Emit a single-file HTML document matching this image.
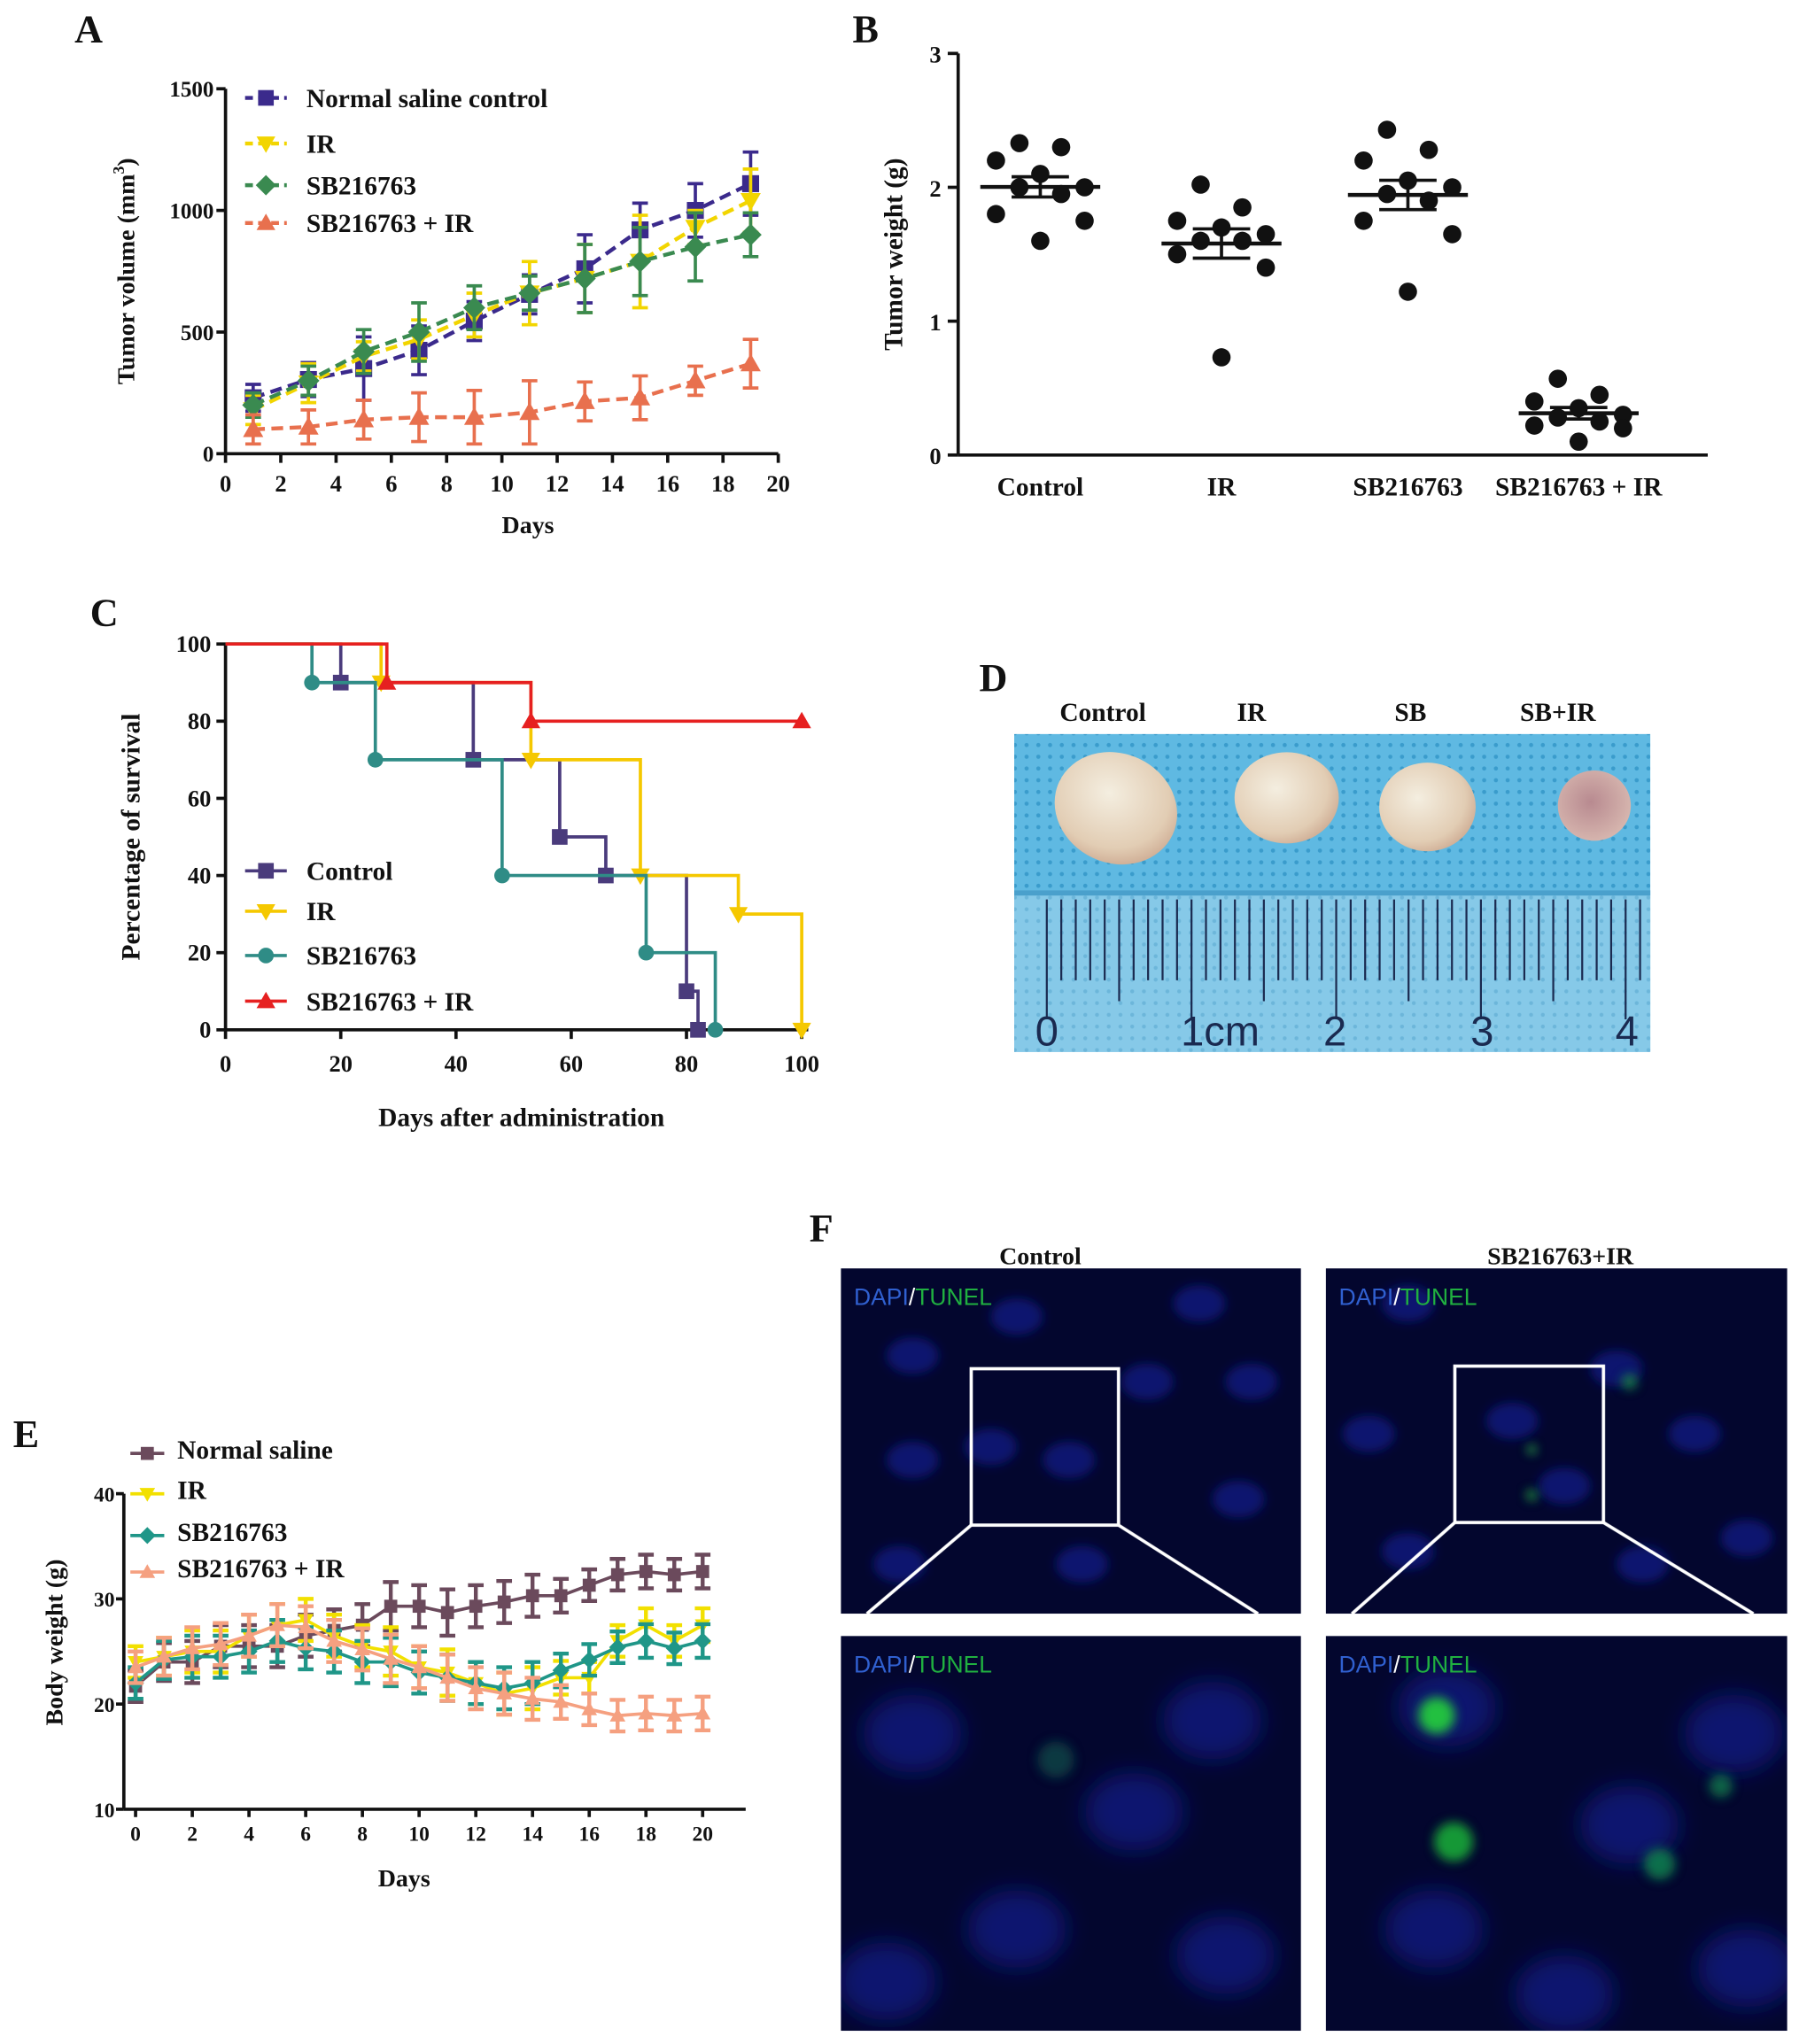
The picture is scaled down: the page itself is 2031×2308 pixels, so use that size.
<!DOCTYPE html>
<html><head><meta charset="utf-8"><style>
html,body{margin:0;padding:0;background:#fff}
svg{display:block}
text{font-family:"Liberation Serif",serif;font-weight:bold;fill:#111}
.sans{font-family:"Liberation Sans",sans-serif;font-weight:normal}
</style></head><body>
<svg id="fig" width="2031" height="2308" viewBox="0 0 1380 1568" xmlns="http://www.w3.org/2000/svg">
<defs>
<pattern id="mesh" width="9" height="9" patternUnits="userSpaceOnUse"><rect width="9" height="9" fill="#5fb9e2"/><circle cx="4.5" cy="4.5" r="1.6" fill="#3a9ccc"/></pattern>
<pattern id="mesh2" width="9" height="9" patternUnits="userSpaceOnUse"><rect width="9" height="9" fill="#86c9e8"/><circle cx="4.5" cy="4.5" r="1.5" fill="#6cb6da"/></pattern>
<radialGradient id="tum" cx="0.4" cy="0.4" r="0.7"><stop offset="0" stop-color="#f4eee0"/><stop offset="0.7" stop-color="#e2cdb4"/><stop offset="1" stop-color="#c9a48c"/></radialGradient>
<radialGradient id="tum2" cx="0.45" cy="0.45" r="0.6"><stop offset="0" stop-color="#b88a90"/><stop offset="1" stop-color="#d8b8b0"/></radialGradient>
<filter id="blur4"><feGaussianBlur stdDeviation="4"/></filter>
<filter id="blur8"><feGaussianBlur stdDeviation="9"/></filter>
<clipPath id="clip0"><rect x="645" y="973" width="353" height="265"/></clipPath>
<clipPath id="clip1"><rect x="1017" y="973" width="354" height="265"/></clipPath>
<clipPath id="clip2"><rect x="645" y="1255" width="353" height="303"/></clipPath>
<clipPath id="clip3"><rect x="1017" y="1255" width="354" height="303"/></clipPath>
<clipPath id="clipD"><rect x="778" y="563" width="488" height="244"/></clipPath>
</defs>
<g id="panelA"></g>
<g id="panelB"></g>
<g id="panelC"></g>
<g id="panelD"></g>
<g id="panelE"></g>
<g id="panelF"></g>
</svg>
<script>
// ---- Panel A data ----
const aDays = [1,3,5,7,9,11,13,15,17,19];
const aCtrl = [230,305,350,425,545,655,760,920,1000,1110];
const aCtrlErr = [55,70,130,100,80,80,140,110,110,130];
const aIR = [180,290,400,470,570,660,720,790,930,1040];
const aIRErr = [60,80,60,80,90,130,140,190,70,130];
const aSB = [200,300,420,500,600,660,720,790,850,900];
const aSBErr = [50,60,90,120,90,70,140,140,140,90];
const aSBIR = [100,110,140,150,150,170,215,230,300,370];
const aSBIRErr = [60,70,80,100,110,130,80,90,60,100];
const aYTicks = [0,500,1000,1500];
const aXTicks = [0,2,4,6,8,10,12,14,16,18,20];
const aLegend = ["Normal saline control","IR","SB216763","SB216763 + IR"];
// ---- Panel B data ----
const bCats = ["Control","IR","SB216763","SB216763 + IR"];
const bCtrl = [2.33,2.3,2.2,2.1,2.0,2.0,1.95,1.8,1.75,1.6];
const bIR = [2.02,1.85,1.75,1.7,1.65,1.6,1.6,1.5,1.4,0.73];
const bSB = [2.43,2.28,2.2,2.05,2.0,1.95,1.9,1.75,1.65,1.22];
const bSBIR = [0.57,0.45,0.4,0.35,0.3,0.28,0.25,0.22,0.2,0.1];
const bYTicks = [0,1,2,3];
// ---- Panel C data ----
const cCtrlT = [0,20,43,58,66,80,82];
const cCtrlV = [100,90,70,50,40,10,0];
const cIRT = [0,27,53,72,89,100];
const cIRV = [100,90,70,40,30,0];
const cSBT = [0,15,26,48,73,85];
const cSBV = [100,90,70,40,20,0];
const cSBIRT = [0,28,53,100];
const cSBIRV = [100,90,80,80];
const cYTicks = [0,20,40,60,80,100];
const cXTicks = [0,20,40,60,80,100];
const cLegend = ["Control","IR","SB216763","SB216763 + IR"];
// ---- Panel E data ----
const eDays = [0,1,2,3,4,5,6,7,8,9,10,11,12,13,14,15,16,17,18,19,20];
const eNS = [21.7,24,24,25.5,25.5,25.5,26.5,27,27.5,29.3,29.3,28.7,29.3,29.7,30.3,30.3,31.3,32.3,32.6,32.3,32.6];
const eIR = [24,24.5,25,25,26.5,27.5,28,26.5,25.5,25,23.5,23,22,21,21.5,22.5,22.5,26,27.5,26,27.5];
const eSB = [22,24.2,24.5,24.5,25,26,25.3,25,24,24,23,22.5,22,21.5,22,23.2,24.2,25.4,26,25.3,26];
const eSBIR = [23.5,24.5,25.3,25.7,26.5,27.5,27.3,26,25.2,24.3,23.5,22.5,21.5,21,20.5,20.2,19.5,18.9,19.1,18.9,19.1];
const eErr = [1.5,1.8,2,2,2,2,2,2,2,2.3,2,2.2,2,2,2,1.6,1.5,1.5,1.6,1.5,1.6];
const eYTicks = [10,20,30,40];
const eXTicks = [0,2,4,6,8,10,12,14,16,18,20];
const eLegend = ["Normal saline","IR","SB216763","SB216763 + IR"];

const NS="http://www.w3.org/2000/svg";
function E(tag, attrs, parent){const el=document.createElementNS(NS,tag);for(const k in attrs)el.setAttribute(k,attrs[k]);parent.appendChild(el);return el;}
function T(txt,x,y,size,parent,anchor,extra){const t=E('text',Object.assign({x:x,y:y,'font-size':size,'text-anchor':anchor||'middle'},extra||{}),parent);t.textContent=txt;return t;}
function marker(shape,x,y,s,color,parent){
  let el;
  if(shape==='sq') el=E('rect',{x:x-s/2,y:y-s/2,width:s,height:s,fill:color},parent);
  else if(shape==='tu') el=E('polygon',{points:`${x},${y-s*0.6} ${x-s*0.6},${y+s*0.45} ${x+s*0.6},${y+s*0.45}`,fill:color},parent);
  else if(shape==='td') el=E('polygon',{points:`${x},${y+s*0.6} ${x-s*0.6},${y-s*0.45} ${x+s*0.6},${y-s*0.45}`,fill:color},parent);
  else if(shape==='di') el=E('polygon',{points:`${x},${y-s*0.65} ${x+s*0.65},${y} ${x},${y+s*0.65} ${x-s*0.65},${y}`,fill:color},parent);
  else el=E('circle',{cx:x,cy:y,r:s/2,fill:color},parent);
  return el;
}
function errbar(x,y1,y2,cap,color,w,parent){
  const g=E('g',{stroke:color,'stroke-width':w},parent);
  E('line',{x1:x,y1:y1,x2:x,y2:y2},g);E('line',{x1:x-cap,y1:y1,x2:x+cap,y2:y1},g);E('line',{x1:x-cap,y1:y2,x2:x+cap,y2:y2},g);
  return g;
}

// ================= Panel A =================
(function(){
const P=document.getElementById('panelA');
const xA=d=>173+d*21.2, yA=v=>348-v*280/1500;
T('A',68,32,30,P);
const ax=E('g',{stroke:'#111','stroke-width':2.5},P);


E('line',{x1:173,y1:yA(1500),x2:173,y2:348},ax);E('line',{x1:173,y1:348,x2:597,y2:348},ax);
aYTicks.forEach(v=>{E('line',{x1:166,y1:yA(v),x2:173,y2:yA(v)},ax);const t=T(v,164,yA(v)+6,17,P,'end');});
aXTicks.forEach(v=>{E('line',{x1:xA(v),y1:348,x2:xA(v),y2:355},ax);const t=T(v,xA(v),377,18,P);});
const xt=T('Days',405,409,19,P);
const yt=T('',0,0,19,P,'middle',{transform:'translate(103,208) rotate(-90)'});
yt.innerHTML='Tumor volume (mm<tspan dy="-8" font-size="12">3</tspan><tspan dy="8">)</tspan>';

const series=[[aCtrl,aCtrlErr,'#3b2a8c','sq'],[aIR,aIRErr,'#f2d500','td'],[aSB,aSBErr,'#3a8a50','di'],[aSBIR,aSBIRErr,'#e8704e','tu']];
const names=['a-series-control','a-series-ir','a-series-sb216763','a-series-sb216763-ir'];
series.forEach((s,i)=>{
  const g=E('g',{},P);
  
  
  s[0].forEach((v,j)=>{const b=errbar(xA(aDays[j]),yA(v+s[1][j]),yA(v-s[1][j]),6,s[2],2.5,g);});
  E('polyline',{points:s[0].map((v,j)=>xA(aDays[j])+','+yA(v)).join(' '),fill:'none',stroke:s[2],'stroke-width':3,'stroke-dasharray':'9,5'},g);
  s[0].forEach((v,j)=>{const m=marker(s[3],xA(aDays[j]),yA(v),13,s[2],g);});
  const ly=[75,110,142,171][i];
  const lg=E('g',{},P);
  
  
  E('line',{x1:188,y1:ly,x2:220,y2:ly,stroke:s[2],'stroke-width':3,'stroke-dasharray':'6,4'},lg);
  marker(s[3],204,ly,12,s[2],lg);
  T(aLegend[i],235,ly+7,20,lg,'start');
});
})();

// ================= Panel B =================
(function(){
const P=document.getElementById('panelB');
const yB=v=>349-v*102.7;
const cx=[798,937,1080,1211];
T('B',664,32,30,P);
const ax=E('g',{stroke:'#111','stroke-width':2.5},P);


E('line',{x1:735,y1:yB(3),x2:735,y2:349},ax);E('line',{x1:735,y1:349,x2:1310,y2:349},ax);
bYTicks.forEach(v=>{E('line',{x1:727,y1:yB(v),x2:735,y2:yB(v)},ax);const t=T(v,722,yB(v)+7,18,P,'end');});
bCats.forEach((c,i)=>{const t=T(c,cx[i],380,20,P);});
const yt=T('Tumor weight (g)',0,0,20,P,'middle',{transform:'translate(692,195) rotate(-90)'});

const offs=[-16,16,-34,0,34,-16,16,-34,34,0];
[bCtrl,bIR,bSB,bSBIR].forEach((arr,i)=>{
  const g=E('g',{},P);
  
  
  const mean=arr.reduce((a,b)=>a+b,0)/arr.length;
  const sd=Math.sqrt(arr.reduce((a,b)=>a+(b-mean)*(b-mean),0)/(arr.length-1));
  const sem=sd/Math.sqrt(arr.length);
  E('line',{x1:cx[i]-46,y1:yB(mean),x2:cx[i]+46,y2:yB(mean),stroke:'#111','stroke-width':3},g);
  errbar(cx[i],yB(mean+sem),yB(mean-sem),22,'#111',2.5,g);
  arr.forEach((v,j)=>{const d=E('circle',{cx:cx[i]+offs[j],cy:yB(v),r:7,fill:'#111'},g);});
});
})();

// ================= Panel C =================
(function(){
const P=document.getElementById('panelC');
const xC=t=>173+t*4.42, yC=v=>790-v*2.96;
T('C',80,480,30,P);
const ax=E('g',{stroke:'#111','stroke-width':2.5},P);


E('line',{x1:173,y1:yC(100),x2:173,y2:790},ax);E('line',{x1:173,y1:790,x2:620,y2:790},ax);
cYTicks.forEach(v=>{E('line',{x1:166,y1:yC(v),x2:173,y2:yC(v)},ax);const t=T(v,162,yC(v)+6,18,P,'end');});
cXTicks.forEach(v=>{E('line',{x1:xC(v),y1:790,x2:xC(v),y2:797},ax);const t=T(v,xC(v),822,18,P);});
const xt=T('Days after administration',400,864,20,P);
const yt=T('Percentage of survival',0,0,20,P,'middle',{transform:'translate(107,642) rotate(-90)'});

const S=[[cCtrlT,cCtrlV,'#4a3b7c','sq'],[cIRT,cIRV,'#f5c800','td'],[cSBT,cSBV,'#2f8c86','ci'],[cSBIRT,cSBIRV,'#e62020','tu']];
S.forEach((s,i)=>{
  const g=E('g',{},P);
  
  
  let d='M'+xC(s[0][0])+','+yC(s[1][0]);
  for(let j=1;j<s[0].length;j++){d+=' H'+xC(s[0][j])+' V'+yC(s[1][j]);}
  E('path',{d:d,fill:'none',stroke:s[2],'stroke-width':2.5},g);
  for(let j=1;j<s[0].length;j++){const m=marker(s[3],xC(s[0][j]),yC(s[1][j]),12,s[2],g);}
  const ly=[668,699,733,768][i];
  const lg=E('g',{},P);
  
  
  E('line',{x1:188,y1:ly,x2:220,y2:ly,stroke:s[2],'stroke-width':2.5},lg);
  marker(s[3],204,ly,12,s[2],lg);
  T(cLegend[i],235,ly+7,20,lg,'start');
});
})();

// ================= Panel D =================
(function(){
const P=document.getElementById('panelD');
T('D',762,530,30,P);
[['Control',846],['IR',960],['SB',1082],['SB+IR',1195]].forEach(l=>{const t=T(l[0],l[1],553,20,P);});
const g=E('g',{'clip-path':'url(#clipD)'},P);


E('rect',{x:778,y:563,width:488,height:244,fill:'url(#mesh)'},g);
E('rect',{x:778,y:683,width:488,height:124,fill:'url(#mesh2)'},g);
E('rect',{x:778,y:683,width:488,height:4,fill:'#4aa0cc'},g);
E('ellipse',{cx:856,cy:620,rx:48,ry:42,fill:'url(#tum)',transform:'rotate(25 856 620)'},g);
E('ellipse',{cx:987,cy:612,rx:40,ry:35,fill:'url(#tum)'},g);
E('ellipse',{cx:1095,cy:619,rx:37,ry:34,fill:'url(#tum)'},g);
E('ellipse',{cx:1223,cy:618,rx:28,ry:27,fill:'url(#tum2)'},g);
const r=E('g',{stroke:'#1a2a50','stroke-width':1.5},g);
for(let i=0;i<=41;i++){const x=803+i*11.1;const h=i%10===0?92:(i%5===0?78:62);E('line',{x1:x,y1:690,x2:x,y2:690+h},r);}
[['0',803],['1cm',936],['2',1024],['3',1137],['4',1248]].forEach(l=>{const t=T(l[0],l[1],802,32,g,'middle',{class:'sans'});t.style.fill='#1a2a50';});
})();

// ================= Panel E =================
(function(){
const P=document.getElementById('panelE');
const xE=d=>104+d*21.75, yE=v=>1388-(v-10)*8.07;
T('E',20,1110,30,P);
const ax=E('g',{stroke:'#111','stroke-width':2.5},P);


E('line',{x1:95,y1:yE(40),x2:95,y2:1388},ax);E('line',{x1:95,y1:1388,x2:572,y2:1388},ax);
eYTicks.forEach(v=>{E('line',{x1:89,y1:yE(v),x2:95,y2:yE(v)},ax);const t=T(v,88,yE(v)+6,16,P,'end');});
eXTicks.forEach(v=>{E('line',{x1:xE(v),y1:1388,x2:xE(v),y2:1394},ax);const t=T(v,xE(v),1412,16,P);});
const xt=T('Days',310,1447,19,P);
const yt=T('Body weight (g)',0,0,19,P,'middle',{transform:'translate(48,1260) rotate(-90)'});

const S=[[eNS,'#6b4a5c','sq'],[eIR,'#f2e000','td'],[eSB,'#1f9688','di'],[eSBIR,'#f5a080','tu']];
S.forEach((s,i)=>{
  const g=E('g',{},P);
  
  
  s[0].forEach((v,j)=>{const b=errbar(xE(eDays[j]),yE(v+eErr[j]),yE(v-eErr[j]),6,s[1],3,g);});
  E('polyline',{points:s[0].map((v,j)=>xE(eDays[j])+','+yE(v)).join(' '),fill:'none',stroke:s[1],'stroke-width':2.5},g);
  s[0].forEach((v,j)=>{const m=marker(s[2],xE(eDays[j]),yE(v),10,s[1],g);});
  const ly=[1112,1143,1175,1203][i];
  const lg=E('g',{},P);
  
  
  E('line',{x1:100,y1:ly+3,x2:126,y2:ly+3,stroke:s[1],'stroke-width':2.5},lg);
  marker(s[2],113,ly+3,10,s[1],lg);
  T(eLegend[i],136,ly+7,20,lg,'start');
});
})();

// ================= Panel F =================
(function(){
const P=document.getElementById('panelF');
T('F',630,952,30,P);
const c1=T('Control',798,970,19,P);
const c2=T('SB216763+IR',1197,970,19,P);
const imgs=[[645,973,353,265,false],[1017,973,354,265,false],[645,1255,353,303,true],[1017,1255,354,303,true]];
const blobs=[
 [[700,1040],[760,1110],[880,1060],[950,1150],[690,1200],[830,1200],[920,1000],[780,1010],[820,1120],[700,1120],[960,1060]],
 [[1080,1000],[1160,1090],[1300,1100],[1240,1050],[1080,1190],[1340,1180],[1200,1140],[1260,1200],[1050,1100]],
 [[700,1330],[870,1390],[780,1480],[940,1500],[680,1520],[930,1320]],
 [[1110,1310],[1250,1400],[1330,1330],[1100,1480],[1200,1530],[1340,1510]]];
imgs.forEach((m,i)=>{
  const g=E('g',{'clip-path':'url(#clip'+i+')'},P);
  
  
  E('rect',{x:m[0],y:m[1],width:m[2],height:m[3],fill:'#03062e'},g);
  const cl=E('g',{filter:m[4]?'url(#blur8)':'url(#blur4)'},g);
  blobs[i].forEach(b=>E('ellipse',{cx:b[0],cy:b[1],rx:m[4]?38:20,ry:m[4]?30:14,fill:'#0c1a8a',opacity:0.7},cl));
  const lab=E('text',{x:m[0]+10,y:m[1]+28,'font-size':18,class:'sans'},g);
  lab.innerHTML='<tspan style="fill:#3060d0">DAPI</tspan><tspan style="fill:#fff">/</tspan><tspan style="fill:#20b040">TUNEL</tspan>';
});
// green TUNEL spots
const gs=E('g',{filter:'url(#blur4)'},P);


E('circle',{cx:1102,cy:1316,r:14,fill:'#20c040'},gs);
E('circle',{cx:1115,cy:1413,r:15,fill:'#18a838',opacity:0.9},gs);
E('circle',{cx:1273,cy:1430,r:12,fill:'#138a50',opacity:0.8},gs);
E('circle',{cx:1320,cy:1370,r:9,fill:'#138a50',opacity:0.7},gs);
E('circle',{cx:810,cy:1350,r:14,fill:'#0f5a50',opacity:0.6},gs);
E('circle',{cx:1175,cy:1112,r:3,fill:'#30e050'},gs);
E('circle',{cx:1175,cy:1147,r:4,fill:'#20a040'},gs);
E('circle',{cx:1250,cy:1060,r:6,fill:'#20a040',opacity:0.7},gs);
// zoom boxes and lines
const wb=E('g',{stroke:'#fff','stroke-width':2.5,fill:'none'},P);


E('rect',{x:745,y:1050,width:113,height:120},wb);
E('line',{x1:745,y1:1170,x2:665,y2:1238},wb);E('line',{x1:858,y1:1170,x2:965,y2:1238},wb);
E('rect',{x:1116,y:1048,width:114,height:120},wb);
E('line',{x1:1116,y1:1168,x2:1037,y2:1238},wb);E('line',{x1:1230,y1:1168,x2:1345,y2:1238},wb);
})();
</script>
</body></html>
